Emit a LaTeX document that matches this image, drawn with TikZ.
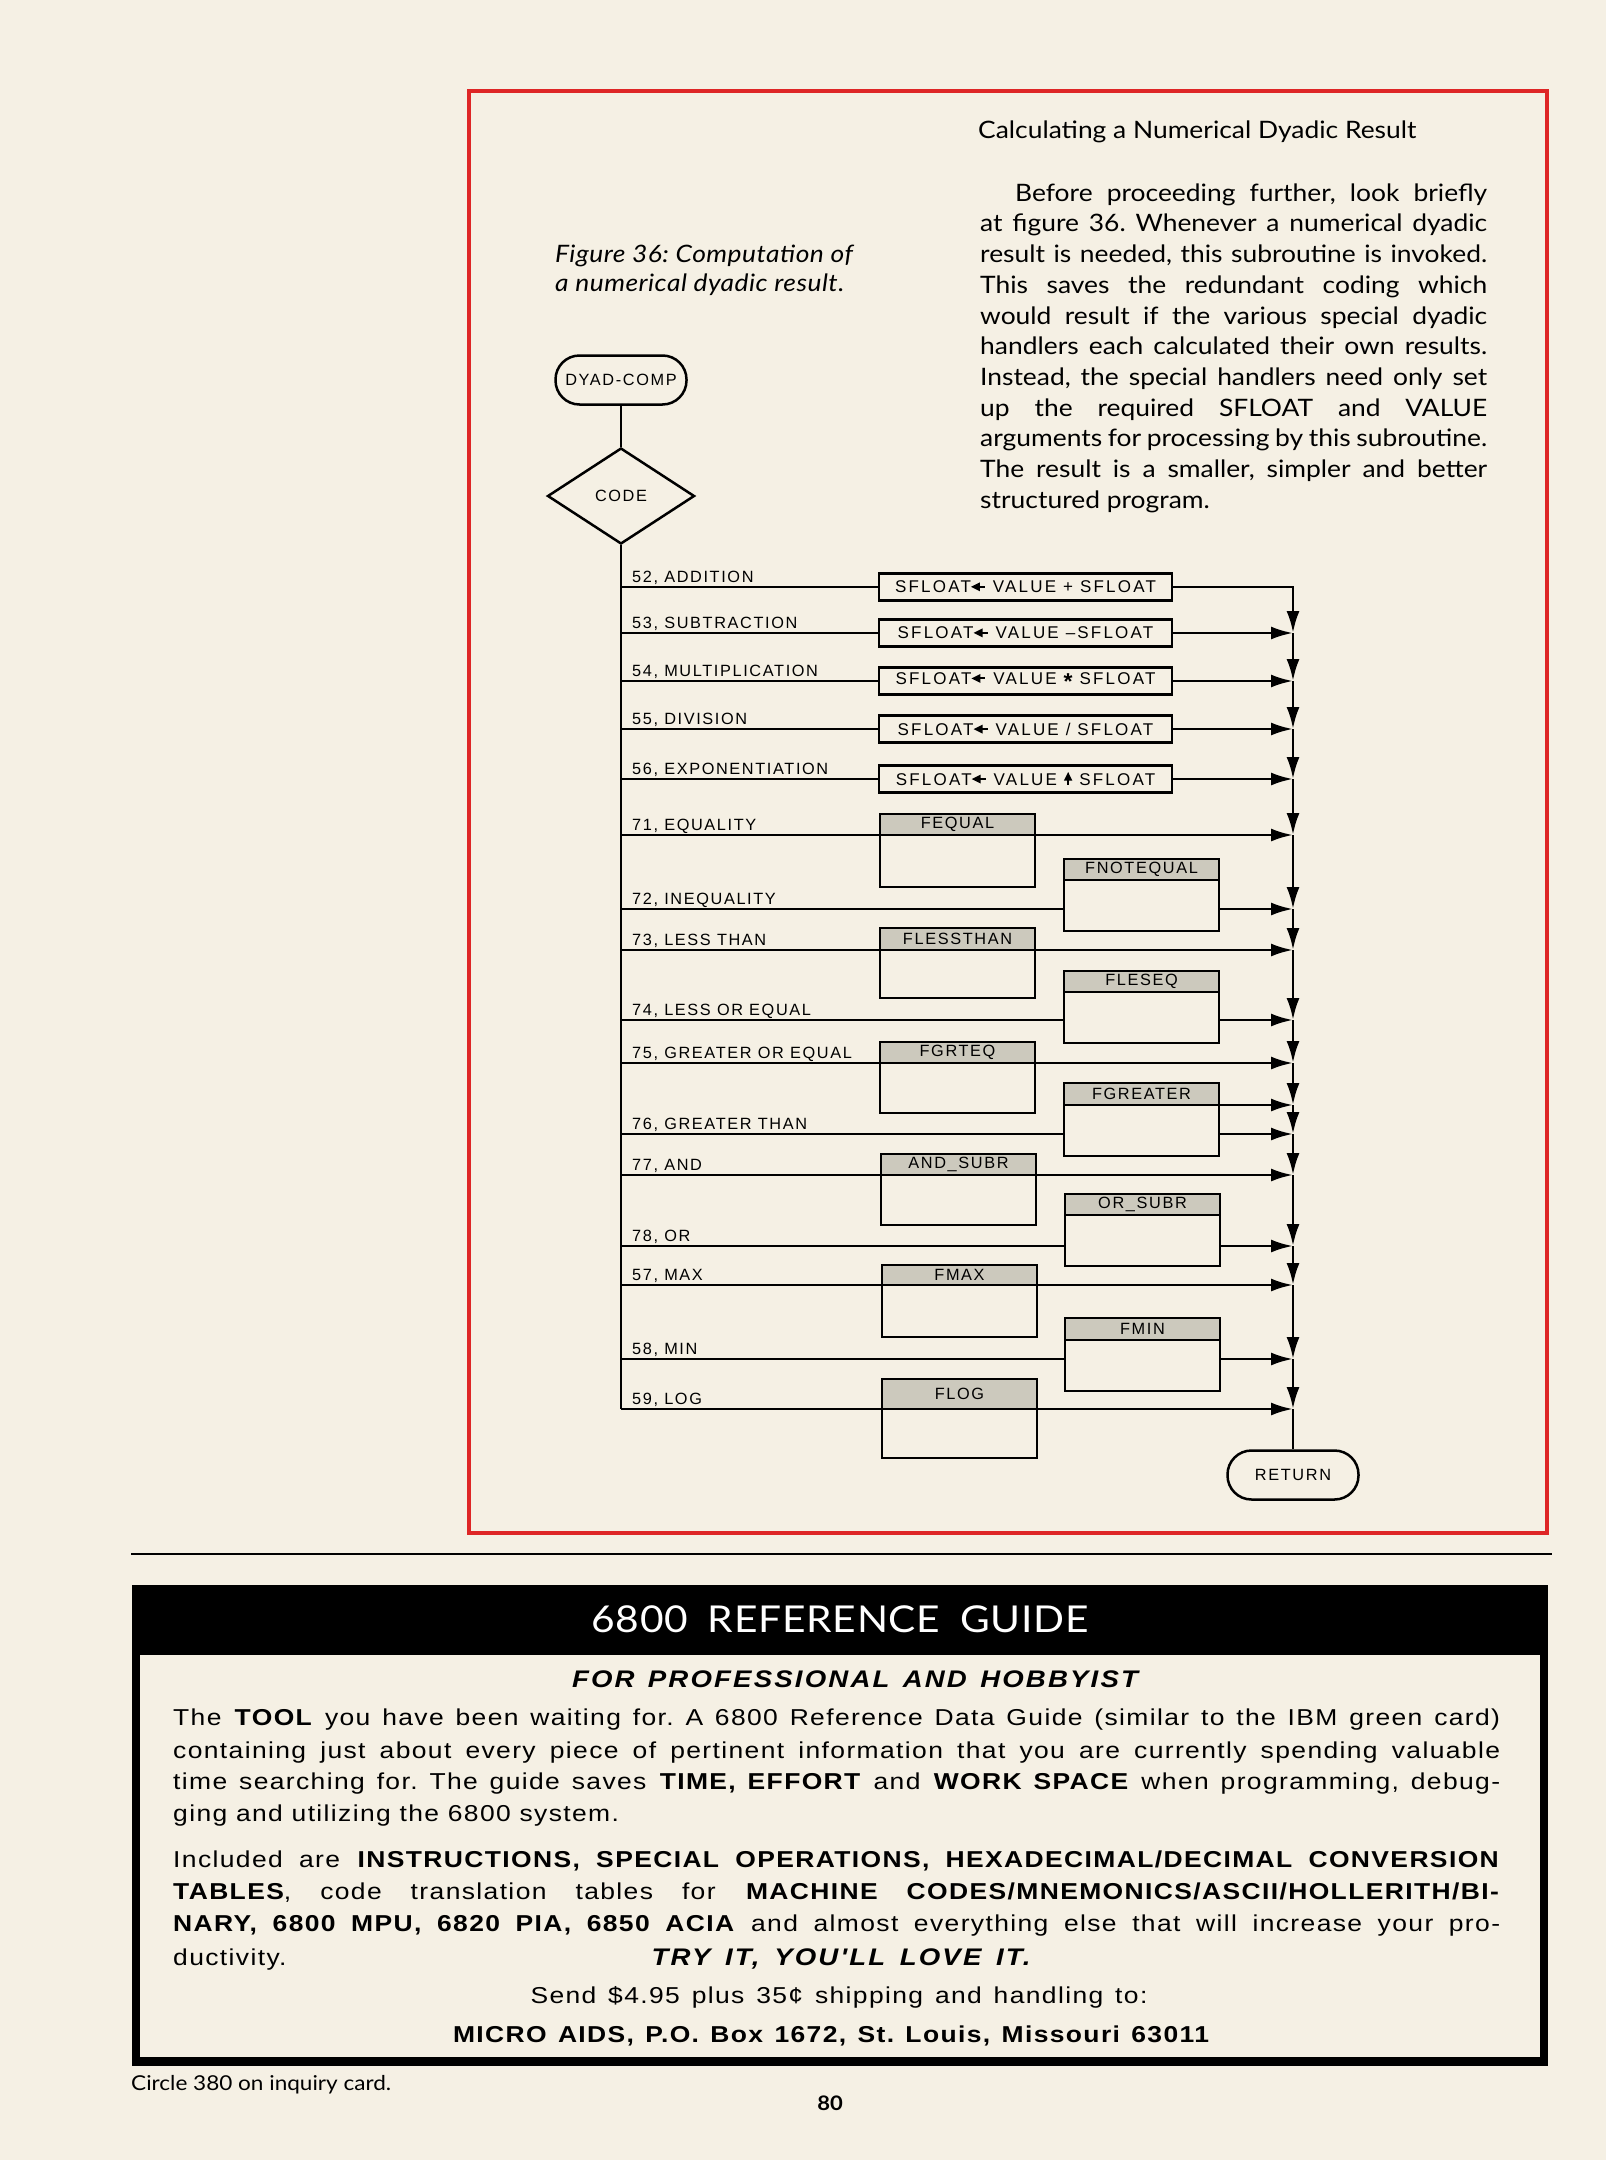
\documentclass[tikz,border=0pt]{standalone}
\usepackage{fontspec}
\setmainfont{Lato}
\newfontfamily\artf[FakeStretch=1.1]{Lato}
\newfontfamily\capf[FakeStretch=1.1,LetterSpace=2]{Lato}
\newfontfamily\ttlf[FakeStretch=1.1,LetterSpace=2]{Lato}
\newfontfamily\dgf[LetterSpace=10]{Liberation Sans}
\newfontfamily\opf[LetterSpace=13]{Liberation Sans}
\newfontfamily\adf[FakeStretch=1.15,LetterSpace=6]{Liberation Sans}
\newfontfamily\adbif[FakeStretch=1.15,LetterSpace=9]{Liberation Sans}
\usetikzlibrary{shapes.geometric,arrows.meta,calc}
\definecolor{paper}{RGB}{245,240,228}
\definecolor{frame}{RGB}{222,38,38}
\definecolor{hdr}{RGB}{204,201,189}
\newcommand\larrow{\tikz[baseline=-6pt,x=1pt,y=1pt]{\fill[black] (0,0)--(9,4.5)--(9,-4.5)--cycle; \draw[black,line width=2pt] (7,0)--(14,0);}}
\newcommand\uarrow{\tikz[baseline=0pt,x=1pt,y=1pt]{\fill[black] (0,13)--(-4.2,4.5)--(4.2,4.5)--cycle; \draw[black,line width=2pt] (0,6)--(0,0);}}
\tikzset{
  dtext/.style={font=\dgf\fontsize{16.3pt}{18pt}\selectfont},
  lbl/.style={dtext, anchor=base west, inner sep=0pt},
  term/.style={draw, line width=2.5pt, rounded corners=24pt, minimum width=131pt, minimum height=49pt, dtext, inner sep=0pt},
  decide/.style={diamond, draw, line width=2.5pt, minimum width=147pt, minimum height=96pt, aspect=1.53, inner sep=0pt, dtext},
  opbox/.style={draw, line width=2.5pt, minimum width=293pt, minimum height=27pt, font=\opf\fontsize{17pt}{18pt}\selectfont, inner sep=0pt},
  subbox/.style={draw, line width=2.5pt, inner sep=0pt, outer sep=0pt, anchor=north west, minimum width=155pt},
  subhdr/.style={fill=hdr, draw, line width=2.5pt, inner sep=0pt, outer sep=0pt, anchor=north west, minimum width=155pt, dtext},
  flow/.style={line width=2.8pt},
  arr/.style={line width=2.8pt, -{Latex[length=22pt,width=13pt]}},
  body/.style={font=\artf\fontsize{24pt}{28pt}\selectfont, anchor=base west, inner sep=0pt},
  capt/.style={font=\capf\itshape\fontsize{24pt}{28pt}\selectfont, anchor=base west, inner sep=0pt},
  ad/.style={font=\adf\fontsize{23pt}{26pt}\selectfont, inner sep=0pt},
  adbi/.style={font=\adbif\bfseries\itshape\fontsize{24pt}{26pt}\selectfont, inner sep=0pt},
  adb/.style={font=\adf\bfseries\fontsize{23pt}{26pt}\selectfont, inner sep=0pt},
}
\begin{document}
\frenchspacing
\begin{tikzpicture}[x=1pt,y=-1pt]
\useasboundingbox (0,0) rectangle (1606,2160);
\fill[paper] (0,0) rectangle (1606,2160);

% red frame
\draw[frame, line width=4pt] (469,91) rectangle (1547,1533);

% article text
\node[body] (title) at (978,138) {Calculating a Numerical Dyadic Result};
\node[body] (p1) at (1015,201) {\makebox[472pt][s]{Before proceeding further, look briefly}};
\node[body] (p2) at (980,231) {\makebox[507pt][s]{at figure 36. Whenever a numerical dyadic}};
\node[body] (p3) at (980,262) {\makebox[507pt][s]{result is needed, this subroutine is invoked.}};
\node[body] (p4) at (980,293) {\makebox[507pt][s]{This saves the redundant coding which}};
\node[body] (p5) at (980,324) {\makebox[507pt][s]{would result if the various special dyadic}};
\node[body] (p6) at (980,354) {\makebox[507pt][s]{handlers each calculated their own results.}};
\node[body] (p7) at (980,385) {\makebox[507pt][s]{Instead, the special handlers need only set}};
\node[body] (p8) at (980,416) {\makebox[507pt][s]{up the required SFLOAT and VALUE}};
\node[body] (p9) at (980,446) {\makebox[507pt][s]{arguments for processing by this subroutine.}};
\node[body] (p10) at (980,477) {\makebox[507pt][s]{The result is a smaller, simpler and better}};
\node[body] (p11) at (980,508) {structured program.};

\node[capt] (cap1) at (555,262) {Figure 36: Computation of};
\node[capt] (cap2) at (555,291) {a numerical dyadic result.};

% flowchart
\node[term] (dyad) at (621,380) {DYAD-COMP};
\node[decide] (code) at (621,496) {CODE};
\draw[flow] (dyad) -- (code);

\coordinate (m52) at (621,587);  \coordinate (j52) at (1293,587);
\coordinate (m53) at (621,633);  \coordinate (j53) at (1293,633);
\coordinate (m54) at (621,681);  \coordinate (j54) at (1293,681);
\coordinate (m55) at (621,729);  \coordinate (j55) at (1293,729);
\coordinate (m56) at (621,779);  \coordinate (j56) at (1293,779);
\coordinate (m71) at (621,835);  \coordinate (j71) at (1293,835);
\coordinate (m72) at (621,909);  \coordinate (j72) at (1293,909);
\coordinate (m73) at (621,950);  \coordinate (j73) at (1293,950);
\coordinate (m74) at (621,1020); \coordinate (j74) at (1293,1020);
\coordinate (m75) at (621,1063); \coordinate (j75) at (1293,1063);
                                 \coordinate (jg)  at (1293,1105);
\coordinate (m76) at (621,1134); \coordinate (j76) at (1293,1134);
\coordinate (m77) at (621,1175); \coordinate (j77) at (1293,1175);
\coordinate (m78) at (621,1246); \coordinate (j78) at (1293,1246);
\coordinate (m57) at (621,1285); \coordinate (j57) at (1293,1285);
\coordinate (m58) at (621,1359); \coordinate (j58) at (1293,1359);
\coordinate (m59) at (621,1409); \coordinate (j59) at (1293,1409);

\draw[flow] (code) -- (m59);

% labels
\node[lbl] (l52) at (632,582) {52, ADDITION};
\node[lbl] (l53) at (632,628) {53, SUBTRACTION};
\node[lbl] (l54) at (632,676) {54, MULTIPLICATION};
\node[lbl] (l55) at (632,724) {55, DIVISION};
\node[lbl] (l56) at (632,774) {56, EXPONENTIATION};
\node[lbl] (l71) at (632,830) {71, EQUALITY};
\node[lbl] (l72) at (632,904) {72, INEQUALITY};
\node[lbl] (l73) at (632,945) {73, LESS THAN};
\node[lbl] (l74) at (632,1015) {74, LESS OR EQUAL};
\node[lbl] (l75) at (632,1058) {75, GREATER OR EQUAL};
\node[lbl] (l76) at (632,1129) {76, GREATER THAN};
\node[lbl] (l77) at (632,1170) {77, AND};
\node[lbl] (l78) at (632,1241) {78, OR};
\node[lbl] (l57) at (632,1280) {57, MAX};
\node[lbl] (l58) at (632,1354) {58, MIN};
\node[lbl] (l59) at (632,1404) {59, LOG};

% arithmetic boxes
\node[opbox] (s52) at (1025.5,587) {SFLOAT\larrow\ VALUE + SFLOAT};
\node[opbox] (s53) at (1025.5,633) {SFLOAT\larrow\ VALUE –SFLOAT};
\node[opbox] (s54) at (1025.5,681) {SFLOAT\larrow\ VALUE \raisebox{-5pt}{\fontsize{23pt}{23pt}\selectfont\bfseries *} SFLOAT};
\node[opbox] (s55) at (1025.5,729) {SFLOAT\larrow\ VALUE / SFLOAT};
\node[opbox] (s56) at (1025.5,779) {SFLOAT\larrow\ VALUE \uarrow\ SFLOAT};

\foreach \k in {52,53,54,55,56} \draw[flow] (m\k) -- (s\k);
\draw[arr] (s52) -- (j52) -- (j53);
\foreach \k in {53,54,55,56} \draw[arr] (s\k) -- (j\k);

% subroutine boxes
\node[subbox, minimum height=73pt] (b71) at (880,814) {};
\node[subhdr, minimum height=21pt] (h71) at (880,814) {FEQUAL};
\node[subbox, minimum height=72pt] (b72) at (1064,859) {};
\node[subhdr, minimum height=21pt] (h72) at (1064,859) {FNOTEQUAL};
\node[subbox, minimum height=70pt] (b73) at (880,928) {};
\node[subhdr, minimum height=22pt] (h73) at (880,928) {FLESSTHAN};
\node[subbox, minimum height=72pt] (b74) at (1064,971) {};
\node[subhdr, minimum height=21pt] (h74) at (1064,971) {FLESEQ};
\node[subbox, minimum height=71pt] (b75) at (880,1042) {};
\node[subhdr, minimum height=21pt] (h75) at (880,1042) {FGRTEQ};
\node[subbox, minimum height=73pt] (b76) at (1064,1083) {};
\node[subhdr, minimum height=22pt] (h76) at (1064,1083) {FGREATER};
\node[subbox, minimum height=71pt] (b77) at (881,1154) {};
\node[subhdr, minimum height=21pt] (h77) at (881,1154) {AND\_SUBR};
\node[subbox, minimum height=72pt] (b78) at (1065,1194) {};
\node[subhdr, minimum height=21pt] (h78) at (1065,1194) {OR\_SUBR};
\node[subbox, minimum height=72pt] (b57) at (882,1265) {};
\node[subhdr, minimum height=20pt] (h57) at (882,1265) {FMAX};
\node[subbox, minimum height=73pt] (b58) at (1065,1318) {};
\node[subhdr, minimum height=22pt] (h58) at (1065,1318) {FMIN};
\node[subbox, minimum height=79pt] (b59) at (882,1379) {};
\node[subhdr, minimum height=30pt] (h59) at (882,1379) {FLOG};

% header-level connections
\foreach \k in {71,73,75,77,57,59} {
  \draw[flow] (m\k) -- (h\k.south west);
  \draw[arr] (h\k.south east) -- (j\k);
}
% body-level connections
\foreach \k in {72,74,76,78,58} {
  \draw[flow] (m\k) -- (m\k -| b\k.west);
  \draw[arr] (m\k -| b\k.east) -- (j\k);
}
\draw[arr] (h76.south east) -- (jg);

% collecting bus
\foreach \a/\b in {j53/j54,j54/j55,j55/j56,j56/j71,j71/j72,j72/j73,j73/j74,j74/j75,j75/jg,jg/j76,j76/j77,j77/j78,j78/j57,j57/j58,j58/j59}
  \draw[arr] (\a) -- (\b);

\node[term] (ret) at (1293,1475) {RETURN};
\draw[flow] (j59) -- (ret);

% rule
\draw[line width=2pt] (131,1554) -- (1552,1554);

% advertisement box
\fill[black] (132,1585) rectangle (1548,2066);
\fill[paper] (140,1655) rectangle (1540,2057);
\node[white, font=\ttlf\fontsize{37pt}{40pt}\selectfont, anchor=base, inner sep=0pt] (adtitle) at (840,1632) {\makebox[497pt][s]{6800 REFERENCE GUIDE}};

\node[adbi, anchor=base] (a1) at (855,1687) {\makebox[566pt][s]{FOR PROFESSIONAL AND HOBBYIST}};
\node[ad, anchor=base west] (a2) at (173,1725) {\makebox[1327pt][s]{The \textbf{TOOL} you have been waiting for. A 6800 Reference Data Guide (similar to the IBM green card)}};
\node[ad, anchor=base west] (a3) at (173,1758) {\makebox[1327pt][s]{containing just about every piece of pertinent information that you are currently spending valuable}};
\node[ad, anchor=base west] (a4) at (173,1789) {\makebox[1327pt][s]{time searching for. The guide saves \textbf{TIME, EFFORT} and \textbf{WORK SPACE} when programming, debug-}};
\node[ad, anchor=base west] (a5) at (173,1821) {ging and utilizing the 6800 system.};
\node[ad, anchor=base west] (a6) at (173,1867) {\makebox[1327pt][s]{Included are \textbf{INSTRUCTIONS, SPECIAL OPERATIONS, HEXADECIMAL/DECIMAL CONVERSION}}};
\node[ad, anchor=base west] (a7) at (173,1899) {\makebox[1327pt][s]{\textbf{TABLES}, code translation tables for \textbf{MACHINE CODES/MNEMONICS/ASCII/HOLLERITH/BI-}}};
\node[ad, anchor=base west] (a8) at (173,1931) {\makebox[1327pt][s]{\textbf{NARY, 6800 MPU, 6820 PIA, 6850 ACIA} and almost everything else that will increase your pro-}};
\node[ad, anchor=base west] (a9) at (173,1965) {ductivity.};
\node[adbi, anchor=base] (a9b) at (841,1965) {\makebox[379pt][s]{TRY IT, YOU'LL LOVE IT.}};
\node[ad, anchor=base] (a10) at (839,2003) {\makebox[617pt][s]{Send \$4.95 plus 35¢ shipping and handling to:}};
\node[adb, anchor=base] (a11) at (831,2042) {\makebox[756pt][s]{MICRO AIDS, P.O. Box 1672, St. Louis, Missouri 63011}};

\node[anchor=base west, inner sep=0pt, font=\artf\fontsize{20.5pt}{22pt}\selectfont] (circ) at (131,2090) {Circle 380 on inquiry card.};
\node[anchor=base, inner sep=0pt, font=\artf\bfseries\fontsize{20pt}{22pt}\selectfont] (pg) at (830,2110) {80};
\end{tikzpicture}
\end{document}
